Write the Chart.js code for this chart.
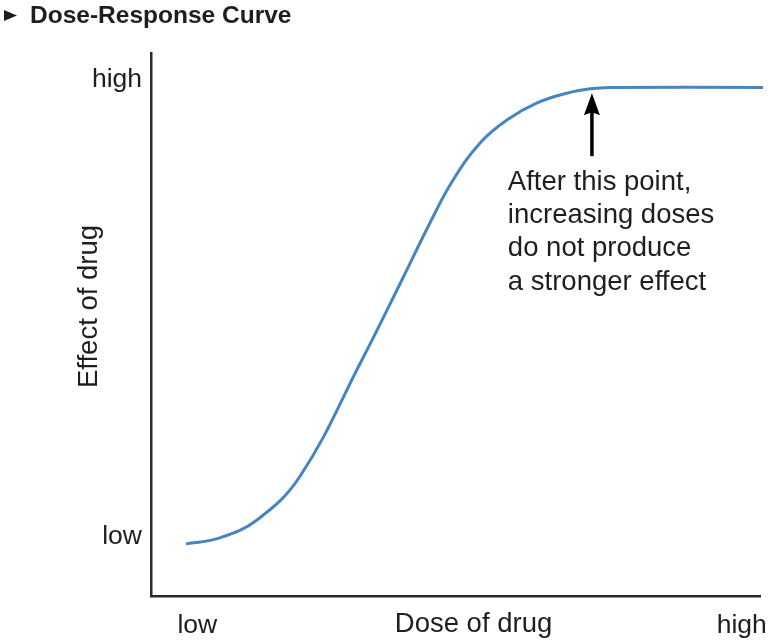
<!DOCTYPE html>
<html lang="en">
<head>
  <meta charset="UTF-8">
  <title>Dose-Response Curve</title>
  <script src="https://cdn.jsdelivr.net/npm/chart.js"></script>
  <style>
    html, body { margin: 0; padding: 0; background: #fff; }
    #wrap { width: 768px; height: 643px; position: relative; }
  </style>
</head>
<body>
  <div id="wrap"><canvas id="myChart"></canvas></div>
  <script>
    // curve (dose 0-100, effect 0-100)
    const dose   = [5.75, 11.3, 17.4, 24.5, 34.65, 41.2, 45.8, 49.6, 54.0, 58.5, 63.4, 68.3, 72.1, 75.4, 100.5];
    const effect = [9.6, 10.7, 14.0, 22.1, 43.5, 58.2, 68.7, 76.6, 83.4, 87.7, 90.8, 92.6, 93.4, 93.65, 93.65];

    const xTickValues = [7.6, 97];
    const xTickLabels = ['low', 'high'];
    const yTickValues = [10.9, 95];
    const yTickLabels = ['low', 'high'];

    const titleText = 'Dose-Response Curve';
    const xTitle = 'Dose of drug';
    const yTitle = 'Effect of drug';
    const noteLines = ['After this point,', 'increasing doses', 'do not produce', 'a stronger effect'];
    const noteX = 58.6, noteY = 74.8;
    const arrowX = 72.4, arrowTipY = 92.6, arrowTailY = 81.0;

    const font = "'Liberation Sans', Arial, sans-serif";
    const ink = '#1e1e1e';

    const points = dose.map((d, i) => ({ x: d, y: effect[i] }));

    const extras = {
      id: 'extras',
      afterDraw(chart) {
        const c = chart.ctx;
        const xs = chart.scales.x, ys = chart.scales.y;
        const area = chart.chartArea;
        c.save();
        // heading
        c.fillStyle = ink;
        c.beginPath();
        c.moveTo(4, 10); c.lineTo(17, 15.5); c.lineTo(4, 21); c.closePath();
        c.fill();
        c.font = 'bold 24.5px ' + font;
        c.textBaseline = 'middle';
        c.textAlign = 'left';
        c.fillText(titleText, 30, 16);

        // axis titles
        c.font = '27.5px ' + font;
        c.textAlign = 'center';
        c.textBaseline = 'alphabetic';
        c.fillText(xTitle, (area.left + area.right) / 2 + 18, 632);
        c.save();
        c.translate(97, (area.top + area.bottom) / 2 - 18);
        c.rotate(-Math.PI / 2);
        c.fillText(yTitle, 0, 0);
        c.restore();

        // arrow
        const ax = xs.getPixelForValue(arrowX);
        const ty = ys.getPixelForValue(arrowTipY);
        const by = ys.getPixelForValue(arrowTailY);
        c.strokeStyle = '#000';
        c.lineWidth = 3.5;
        c.beginPath();
        c.moveTo(ax, by); c.lineTo(ax, ty + 18);
        c.stroke();
        c.fillStyle = '#000';
        c.beginPath();
        c.moveTo(ax, ty); c.lineTo(ax - 8, ty + 22); c.lineTo(ax, ty + 19); c.lineTo(ax + 8, ty + 22); c.closePath();
        c.fill();

        // note
        c.fillStyle = ink;
        c.textAlign = 'left';
        c.font = '27.5px ' + font;
        const nx = xs.getPixelForValue(noteX);
        const ny = ys.getPixelForValue(noteY);
        noteLines.forEach((t, i) => c.fillText(t, nx, ny + i * 33.3));
        c.restore();
      }
    };

    const ctx = document.getElementById('myChart');
    new Chart(ctx, {
      type: 'line',
      data: {
        datasets: [{
          data: points,
          borderColor: '#4685c0',
          borderWidth: 3,
          pointRadius: 0,
          tension: 0.4,
          fill: false,
          clip: false
        }]
      },
      options: {
        responsive: true,
        maintainAspectRatio: false,
        animation: false,
        layout: { padding: { top: 53, right: 8, left: 0, bottom: 0 } },
        plugins: { legend: { display: false }, tooltip: { enabled: false } },
        scales: {
          x: {
            type: 'linear',
            min: 0, max: 100,
            grid: { display: false, drawTicks: false },
            border: { display: true, color: '#2b2b2b', width: 2.5 },
            afterBuildTicks: s => { s.ticks = xTickValues.map(v => ({ value: v })); },
            afterFit: s => { s.height = 47; s.paddingLeft = 0; s.paddingRight = 0; },
            ticks: {
              padding: 14,
              color: ink,
              font: { family: font, size: 26.5 },
              callback: (v) => xTickLabels[xTickValues.indexOf(v)],
              maxRotation: 0, autoSkip: false
            }
          },
          y: {
            type: 'linear',
            min: 0, max: 100,
            grid: { display: false, drawTicks: false },
            border: { display: true, color: '#2b2b2b', width: 2.5 },
            afterBuildTicks: s => { s.ticks = yTickValues.map(v => ({ value: v })); },
            afterFit: s => { s.width = 151; s.paddingTop = 0; s.paddingBottom = 0; },
            ticks: {
              padding: 9,
              color: ink,
              font: { family: font, size: 26.5 },
              callback: (v) => yTickLabels[yTickValues.indexOf(v)],
              autoSkip: false
            }
          }
        }
      },
      plugins: [extras]
    });
  </script>
</body>
</html>
